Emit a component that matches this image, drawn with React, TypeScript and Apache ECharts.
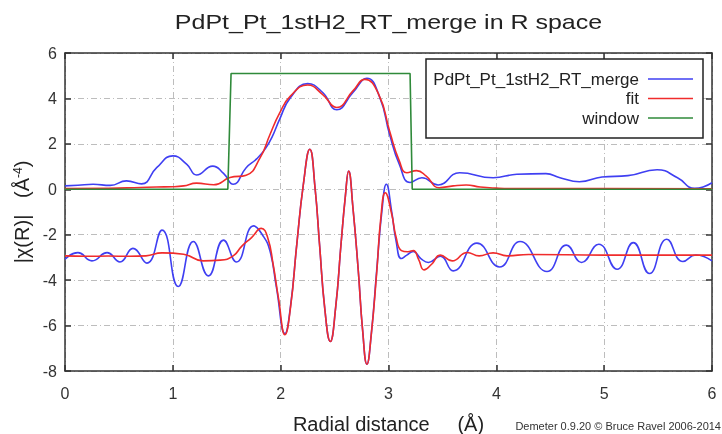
import React, { useEffect, useRef } from "react";
import * as echarts from "echarts";

const titleText = "PdPt_Pt_1stH2_RT_merge in R space";
const seriesNames = ["PdPt_Pt_1stH2_RT_merge", "fit", "window"];
const xTicks = { min: 0, max: 6, interval: 1 };
const yTicks = { min: -8, max: 6, interval: 2 };

// |chi(R)| of data (blue)
const mergeMag: [number, number][] = [
  [0, 0.15], [0.12, 0.18], [0.26, 0.22], [0.42, 0.17], [0.57, 0.37], [0.71, 0.24],
  [0.85, 0.95], [1.0, 1.47], [1.13, 1.1], [1.22, 0.63], [1.37, 1.02], [1.47, 0.7],
  [1.56, 0.22], [1.68, 0.95], [1.78, 1.35], [1.86, 1.8], [1.92, 2.3], [1.99, 3.08],
  [2.09, 4.03], [2.25, 4.65], [2.39, 4.26], [2.52, 3.5], [2.67, 4.26], [2.8, 4.89],
  [2.92, 4.03], [3.01, 2.42], [3.1, 1.1], [3.2, 0.3], [3.31, 0.51], [3.46, 0.19],
  [3.66, 0.73], [3.97, 0.51], [4.19, 0.66], [4.46, 0.69], [4.59, 0.51], [4.77, 0.33],
  [4.98, 0.54], [5.22, 0.6], [5.49, 0.86], [5.68, 0.51], [5.84, 0.04], [6.0, 0.29],
];

// |chi(R)| of fit (red)
const fitMag: [number, number][] = [
  [0, 0.03], [0.4, 0.04], [0.7, 0.08], [0.85, 0.1], [1.0, 0.11], [1.1, 0.15],
  [1.22, 0.27], [1.38, 0.2], [1.53, 0.52], [1.68, 0.62], [1.81, 1.39], [1.9, 2.4],
  [1.99, 3.35], [2.09, 4.1], [2.25, 4.59], [2.39, 4.17], [2.52, 3.6], [2.67, 4.33],
  [2.78, 4.84], [2.91, 4.17], [3.01, 2.57], [3.1, 1.25], [3.17, 0.73], [3.26, 0.82],
  [3.35, 0.58], [3.47, 0.07], [3.6, 0.15], [3.72, 0.19], [3.85, 0.1], [4.0, 0.05],
  [4.15, 0.03], [5.0, 0.03], [6.0, 0.02],
];

// window (green)
const windowMag: [number, number][] = [
  [0, 0], [1.51, 0], [1.54, 5.1], [3.2, 5.1], [3.22, 0], [6, 0],
];

// Re[chi(R)] of data, offset (blue)
const mergeRe: [number, number][] = [
  [0, -3.08], [0.12, -2.79], [0.25, -3.15], [0.39, -2.79], [0.51, -3.2], [0.63, -2.6],
  [0.76, -3.25], [0.9, -1.8], [1.05, -4.28], [1.19, -2.3], [1.33, -3.81], [1.47, -2.24],
  [1.59, -3.2], [1.75, -1.61], [1.83, -2.0], [1.9, -2.7], [1.96, -4.3], [2.04, -6.35],
  [2.09, -5.2], [2.15, -2.4], [2.21, 0.2], [2.27, 1.76], [2.32, 0.0], [2.36, -2.4],
  [2.41, -5.3], [2.46, -6.7], [2.51, -5.2], [2.56, -2.4], [2.6, -0.3], [2.63, 0.8],
  [2.67, -0.8], [2.72, -3.6], [2.76, -6.2], [2.8, -7.7], [2.84, -6.4], [2.89, -3.6],
  [2.94, -0.9], [2.98, 0.22], [3.03, -1.0], [3.07, -2.27], [3.12, -3.05], [3.17, -2.9],
  [3.23, -2.74], [3.3, -3.05], [3.37, -3.22], [3.48, -2.95], [3.6, -3.59], [3.82, -2.37],
  [4.03, -3.42], [4.22, -2.3], [4.47, -3.62], [4.65, -2.46], [4.79, -3.22], [4.95, -2.42],
  [5.12, -3.52], [5.27, -2.35], [5.42, -3.71], [5.58, -2.2], [5.73, -3.18], [5.85, -2.89],
  [6.0, -3.15],
];

// Re[chi(R)] of fit, offset (red)
const fitRe: [number, number][] = [
  [0, -2.93], [0.2, -2.95], [0.4, -2.94], [0.6, -2.95], [0.75, -2.93], [0.9, -2.8],
  [1.1, -2.86], [1.28, -3.15], [1.44, -3.12], [1.56, -2.93], [1.64, -2.5], [1.73, -2.13],
  [1.82, -1.72], [1.88, -2.13], [1.93, -3.3], [1.98, -4.8], [2.04, -6.4], [2.09, -5.25],
  [2.15, -2.4], [2.21, 0.2], [2.27, 1.76], [2.32, 0.0], [2.36, -2.4], [2.41, -5.3],
  [2.46, -6.7], [2.51, -5.2], [2.56, -2.4], [2.6, -0.3], [2.63, 0.8], [2.67, -0.8],
  [2.72, -3.6], [2.76, -6.2], [2.8, -7.7], [2.84, -6.4], [2.89, -3.7], [2.93, -1.2],
  [2.97, -0.15], [3.03, -1.1], [3.07, -2.1], [3.12, -2.7], [3.18, -2.75], [3.23, -2.7],
  [3.28, -3.1], [3.33, -3.55], [3.4, -3.3], [3.48, -2.9], [3.59, -3.15], [3.73, -2.78],
  [3.84, -2.93], [3.97, -2.8], [4.1, -2.93], [4.3, -2.87], [5.0, -2.9], [6.0, -2.9],
];

const BLUE = "#3f3ff2";
const RED = "#f02c2c";
const GREEN = "#2f8a3a";
const FONT = "Liberation Sans, Arial, sans-serif";

export default function App() {
  const ref = useRef<HTMLDivElement>(null);
  useEffect(() => {
    if (!ref.current) return;
    const chart = echarts.init(ref.current, undefined, { renderer: "svg" });
    const gridLine = { show: true, lineStyle: { color: "#bdbdbd", width: 1, type: [6, 3, 1, 3] } };
    const frame = { show: true, onZero: false, lineStyle: { color: "#333", width: 1.5 } };
    const tick = { show: true, inside: true, length: 6, lineStyle: { color: "#333", width: 1.5 } };
    const lineSeries = (name: string, data: [number, number][], color: string, smooth: number | boolean, z: number) => ({
      name,
      type: "line",
      data,
      smooth,
      showSymbol: false,
      symbol: "none",
      z,
      lineStyle: { color, width: 1.6 },
      itemStyle: { color },
    });
    chart.setOption({
      animation: false,
      textStyle: { fontFamily: FONT },
      grid: { left: 65, right: 10, top: 53, bottom: 63, containLabel: false, outerBoundsMode: "none" },
      xAxis: [
        {
          type: "value", ...xTicks, position: "bottom",
          axisLine: frame, axisTick: tick,
          axisLabel: { color: "#333", fontSize: 16, margin: 14, fontFamily: FONT },
          splitLine: gridLine,
          name: "Radial distance     (Å)", nameLocation: "middle", nameGap: 43,
          nameTextStyle: { fontSize: 20, color: "#222", fontFamily: FONT },
        },
        {
          type: "value", ...xTicks, position: "top",
          axisLine: frame, axisTick: tick, axisLabel: { show: false }, splitLine: { show: false },
        },
      ],
      yAxis: [
        {
          type: "value", ...yTicks, position: "left",
          axisLine: frame, axisTick: tick,
          axisLabel: { color: "#333", fontSize: 16, margin: 8, fontFamily: FONT },
          splitLine: gridLine,
          name: "|χ(R)|   (Å{s|-4})", nameLocation: "middle", nameGap: 26, nameRotate: 90,
          nameTextStyle: {
            fontSize: 20, color: "#222", fontFamily: FONT,
            rich: { s: { fontSize: 12, color: "#222", verticalAlign: "top", fontFamily: FONT } },
          },
        },
        {
          type: "value", ...yTicks, position: "right",
          axisLine: frame, axisTick: tick, axisLabel: { show: false }, splitLine: { show: false },
        },
      ],
      series: [
        lineSeries(seriesNames[0], mergeMag, BLUE, 0.5, 2),
        lineSeries(seriesNames[1], fitMag, RED, 0.5, 3),
        lineSeries(seriesNames[2], windowMag, GREEN, false, 4),
        lineSeries(seriesNames[0] + " Re", mergeRe, BLUE, 0.5, 2),
        lineSeries(seriesNames[1] + " Re", fitRe, RED, 0.5, 3),
      ],
      graphic: [
        {
          type: "text", x: 388.5, y: 22, scaleX: 1.19, z: 100,
          style: { text: titleText, fill: "#222", font: `21px ${FONT}`, textAlign: "center", textVerticalAlign: "middle" },
        },
        {
          type: "group", z: 100,
          children: [
            {
              type: "rect", z: 100,
              shape: { x: 426, y: 59, width: 277, height: 79 },
              style: { fill: "#fff", stroke: "#222", lineWidth: 1.5 },
            },
            ...seriesNames.map((n, i) => ({
              type: "text", z: 101, x: 639, y: 79 + i * 19.5,
              style: { text: n, font: `17px ${FONT}`, fill: "#222", textAlign: "right", textVerticalAlign: "middle" },
            })),
            ...[BLUE, RED, GREEN].map((c, i) => ({
              type: "line", z: 101,
              shape: { x1: 648, y1: 79 + i * 19.5, x2: 693, y2: 79 + i * 19.5 },
              style: { stroke: c, lineWidth: 1.6 },
            })),
          ],
        },
        {
          type: "text", x: 721, y: 426, z: 100,
          style: { text: "Demeter 0.9.20 © Bruce Ravel 2006-2014", font: `11px ${FONT}`, fill: "#333", textAlign: "right", textVerticalAlign: "middle" },
        },
      ],
    });
    return () => chart.dispose();
  }, []);
  return <div ref={ref} style={{ position: "fixed", left: 0, top: 0, width: 722, height: 434 }} />;
}
